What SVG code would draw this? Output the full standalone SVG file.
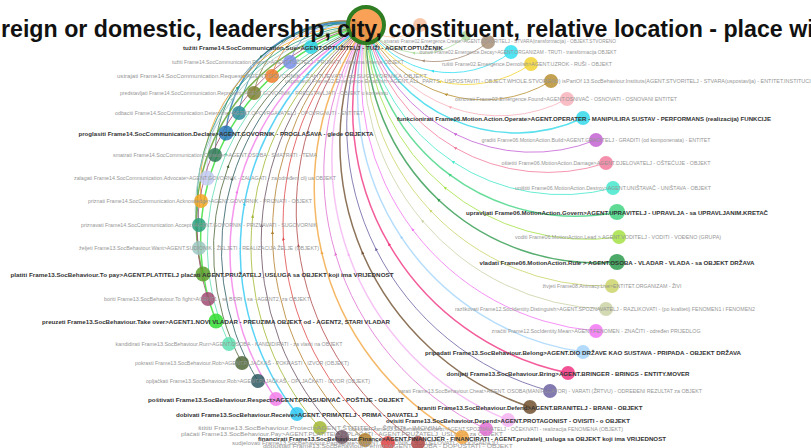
<svg xmlns="http://www.w3.org/2000/svg" width="811" height="448" viewBox="0 0 811 448">
<style>
.e{fill:none;stroke-width:1;stroke-opacity:.8;marker-mid:url(#a)}
.b{stroke-width:1.5}
.n circle{fill-opacity:.85}
.g{font-family:"Liberation Sans",Arial,sans-serif;font-size:4.7px;fill:#959595;text-anchor:middle}
.d{font-family:"Liberation Sans",Arial,sans-serif;font-size:5.6px;font-weight:bold;fill:#333;text-anchor:middle}
.t{font-family:"Liberation Sans",Arial,sans-serif;font-size:23.2px;font-weight:bold;fill:#111}
</style>
<defs>
<marker id="a" viewBox="0 0 10 10" refX="5" refY="5" markerWidth="3.2" markerHeight="3.2" markerUnits="userSpaceOnUse" orient="auto"><path d="M0,0L10,5L0,10z" fill="context-stroke"/></marker>
</defs>
<rect width="811" height="448" fill="#fff"/>
<g id="edges">
<path class="e" stroke="#f8c0a0" d="M420,25 A36,36 0 0,1 393,37.1 A36,36 0 0,1 366,25"/>
<path class="e" stroke="#b0dca0" d="M466,36 A67,67 0 0,1 413.5,52.9 A67,67 0 0,1 366,25"/>
<path class="e b" stroke="#2dd4e8" d="M311,47 A40,40 0 0,1 333.6,23.7 A40,40 0 0,1 366,25"/>
<path class="e" stroke="#7b8ee8" d="M290,62 A57,57 0 0,1 319.7,26.5 A57,57 0 0,1 366,25"/>
<path class="e" stroke="#f07f2a" d="M272,76 A72,72 0 0,1 307.6,29.4 A72,72 0 0,1 366,25"/>
<path class="e" stroke="#7f7f2f" d="M254,93 A88,88 0 0,1 294.8,33.9 A88,88 0 0,1 366,25"/>
<path class="e" stroke="#2b8a9c" d="M239,113 A104,104 0 0,1 282.8,40.6 A104,104 0 0,1 366,25"/>
<path class="e b" stroke="#2a7ab8" d="M226,133 A119,119 0 0,1 271.8,47.6 A119,119 0 0,1 366,25"/>
<path class="e" stroke="#2f7a58" d="M215,155 A134,134 0 0,1 261.4,56.2 A134,134 0 0,1 366,25"/>
<path class="e" stroke="#c3cbf2" d="M207,178 A148,148 0 0,1 252.2,65.9 A148,148 0 0,1 366,25"/>
<path class="e" stroke="#f5a623" d="M201,201 A162,162 0 0,1 244.1,76 A162,162 0 0,1 366,25"/>
<path class="e" stroke="#2aa07e" d="M199,225 A175,175 0 0,1 237.7,87.6 A175,175 0 0,1 366,25"/>
<path class="e" stroke="#9cc7c0" d="M199,248 A187,187 0 0,1 232.5,99.1 A187,187 0 0,1 366,25"/>
<path class="e b" stroke="#5aa02a" d="M203,274 A199,199 0 0,1 228.7,113 A199,199 0 0,1 366,25"/>
<path class="e" stroke="#a04a72" d="M208,299 A212,212 0 0,1 225.6,126.6 A212,212 0 0,1 366,25"/>
<path class="e b" stroke="#33dd33" d="M216,321 A222,222 0 0,1 224.7,139.4 A222,222 0 0,1 366,25"/>
<path class="e" stroke="#5fe0b2" d="M229,344 A233,233 0 0,1 226,153.8 A233,233 0 0,1 366,25"/>
<path class="e" stroke="#50683a" d="M242,363 A241,241 0 0,1 228.3,166.2 A241,241 0 0,1 366,25"/>
<path class="e" stroke="#2b5b62" d="M258,381 A249,249 0 0,1 232.3,178.8 A249,249 0 0,1 366,25"/>
<path class="e b" stroke="#f27ee9" d="M276,399 A258,258 0 0,1 237.2,191.8 A258,258 0 0,1 366,25"/>
<path class="e b" stroke="#2fc8f2" d="M297,414 A265,265 0 0,1 244.4,204 A265,265 0 0,1 366,25"/>
<path class="e" stroke="#a2b832" d="M320,428 A272,272 0 0,1 252.7,216.2 A272,272 0 0,1 366,25"/>
<path class="e" stroke="#6c5060" d="M342,437 A277,277 0 0,1 261.7,225.6 A277,277 0 0,1 366,25"/>
<path class="e" stroke="#b3802c" d="M365,440 A278,278 0 0,1 272.5,232.3 A278,278 0 0,1 366,25"/>
<path class="e" stroke="#e04848" d="M388,443 A281,281 0 0,1 283.4,238.9 A281,281 0 0,1 366,25"/>
<path class="e" stroke="#b04848" d="M418,443 A282,282 0 0,1 298.4,245.6 A282,282 0 0,1 366,25"/>
<path class="e b" stroke="#f2a640" d="M462,437 A283,283 0 0,1 321.7,252.5 A283,283 0 0,1 366,25"/>
<path class="e" stroke="#e070d2" d="M486,429 A282,282 0 0,1 335.5,253.9 A282,282 0 0,1 366,25"/>
<path class="e b" stroke="#f4b4f2" d="M508,420 A281,281 0 0,1 348.5,254.3 A281,281 0 0,1 366,25"/>
<path class="e b" stroke="#70502f" d="M530,407 A279,279 0 0,1 362.4,252.7 A279,279 0 0,1 366,25"/>
<path class="e" stroke="#6b62a2" d="M550,391 A274,274 0 0,1 376,249.2 A274,274 0 0,1 366,25"/>
<path class="e b" stroke="#f03582" d="M568,373 A270,270 0 0,1 389,244.2 A270,270 0 0,1 366,25"/>
<path class="e b" stroke="#a4d4fa" d="M583,352 A263,263 0 0,1 401.3,237.1 A263,263 0 0,1 366,25"/>
<path class="e" stroke="#f276f2" d="M596,331 A257,257 0 0,1 412.5,229.5 A257,257 0 0,1 366,25"/>
<path class="e" stroke="#cbd2a6" d="M606,309 A249,249 0 0,1 422.4,220.8 A249,249 0 0,1 366,25"/>
<path class="e" stroke="#cbd468" d="M612,286 A240,240 0 0,1 430.5,210.6 A240,240 0 0,1 366,25"/>
<path class="e b" stroke="#2e9a4c" d="M617,262 A231,231 0 0,1 438.4,199.7 A231,231 0 0,1 366,25"/>
<path class="e" stroke="#a4e244" d="M619,237 A221,221 0 0,1 445,187.7 A221,221 0 0,1 366,25"/>
<path class="e b" stroke="#42d482" d="M617,212 A210,210 0 0,1 449.6,174.7 A210,210 0 0,1 366,25"/>
<path class="e" stroke="#44e8cc" d="M613,188 A198,198 0 0,1 453,161.8 A198,198 0 0,1 366,25"/>
<path class="e" stroke="#f27c9c" d="M606,163 A186,186 0 0,1 455.1,147.8 A186,186 0 0,1 366,25"/>
<path class="e" stroke="#c462d4" d="M596,140 A172,172 0 0,1 455.2,134 A172,172 0 0,1 366,25"/>
<path class="e b" stroke="#32d8ea" d="M583,118 A158,158 0 0,1 453.7,120.1 A158,158 0 0,1 366,25"/>
<path class="e" stroke="#f8b2bb" d="M567,99 A144,144 0 0,1 449.9,107 A144,144 0 0,1 366,25"/>
<path class="e" stroke="#b89032" d="M551,81 A130,130 0 0,1 446,94.4 A130,130 0 0,1 366,25"/>
<path class="e" stroke="#f2d432" d="M531,64 A114,114 0 0,1 439.8,81.5 A114,114 0 0,1 366,25"/>
<path class="e" stroke="#32e0f2" d="M511,52 A99,99 0 0,1 432.5,71 A99,99 0 0,1 366,25"/>
<path class="e" stroke="#a88f78" d="M488,42 A83,83 0 0,1 423.2,60.8 A83,83 0 0,1 366,25"/>
</g>
<g id="n_hub" class="n"><circle cx="366" cy="25" r="18" fill="#f7913a" stroke="#2f7d22" stroke-width="4"/></g>
<g id="n0a" class="n"><circle cx="420" cy="25" r="7" fill="#f8c0a0" fill-opacity=".6"/></g>
<g id="n0b" class="n"><circle cx="466" cy="36" r="5" fill="#b0dca0" fill-opacity=".6"/></g>
<g id="n1" class="n"><circle cx="311" cy="47" r="7" fill="#2dd4e8"/><text class="d" x="313" y="49.5" textLength="260" lengthAdjust="spacingAndGlyphs">tužiti Frame14.SocCommunication.Sue&gt;AGENT.OPTUŽITELJ - TUŽI - AGENT.OPTUŽENIK</text></g>
<g id="n2" class="n"><circle cx="290" cy="62" r="7" fill="#7b8ee8"/><text class="g" x="288" y="63.5" textLength="232" lengthAdjust="spacingAndGlyphs">tužiti Frame14.SocCommunication.Report&gt;AGENT.TUŽITELJ - PRIJAVITI - vlastima kršenje OBJEKT</text></g>
<g id="n3" class="n"><circle cx="272" cy="76" r="7" fill="#f07f2a"/><text class="g" x="272" y="78" textLength="310" lengthAdjust="spacingAndGlyphs">ustrajati Frame14.SocCommunication.Request&gt;AGENT.GOVORNIK - ZAHTIJEVATI - od SUGOVORNIKA OBJEKT</text></g>
<g id="n4" class="n"><circle cx="254" cy="93" r="7" fill="#7f7f2f"/><text class="g" x="254" y="94.5" textLength="268" lengthAdjust="spacingAndGlyphs">predstavljati Frame14.SocCommunication.Represent&gt;AGENT.GOVORNIK - PREDSTAVLJATI - OBJEKT u kontekstu</text></g>
<g id="n5" class="n"><circle cx="239" cy="113" r="7" fill="#2b8a9c"/><text class="g" x="239" y="114.5" textLength="248" lengthAdjust="spacingAndGlyphs">odbaciti Frame14.SocCommunication.Determine&gt;AGENT.OPOVRGAVATELJ - OPOVRGNUTI - ENTITET</text></g>
<g id="n6" class="n"><circle cx="226" cy="133" r="7.5" fill="#2a7ab8"/><text class="d" x="226" y="135.5" textLength="295" lengthAdjust="spacingAndGlyphs">proglasiti Frame14.SocCommunication.Declare&gt;AGENT.GOVORNIK - PROGLAŠAVA - glede OBJEKTA</text></g>
<g id="n7" class="n"><circle cx="215" cy="155" r="7" fill="#2f7a58"/><text class="g" x="215" y="156.5" textLength="204" lengthAdjust="spacingAndGlyphs">smatrati Frame14.SocCommunication.Consider&gt;AGENT.OSOBA - SMATRATI - TEMA</text></g>
<g id="n8" class="n"><circle cx="207" cy="178" r="7.5" fill="#c3cbf2"/><text class="g" x="205" y="179.5" textLength="262" lengthAdjust="spacingAndGlyphs">zalagati Frame14.SocCommunication.Advocate&gt;AGENT.GOVORNIK - ZALAGATI - za određeni cilj ua OBJEKT</text></g>
<g id="n9" class="n"><circle cx="201" cy="201" r="7" fill="#f5a623"/><text class="g" x="200" y="202.5" textLength="224" lengthAdjust="spacingAndGlyphs">priznati Frame14.SocCommunication.Acknowledge&gt;AGENT.GOVORNIK - PRIZNATI - OBJEKT</text></g>
<g id="n10" class="n"><circle cx="199" cy="225" r="7" fill="#2aa07e"/><text class="g" x="199" y="226.5" textLength="236" lengthAdjust="spacingAndGlyphs">priznavati Frame14.SocCommunication.Accept&gt;AGENT.GOVORNIK - PRIZNAVATI - SUGOVORNIK</text></g>
<g id="n11" class="n"><circle cx="199" cy="248" r="7" fill="#9cc7c0"/><text class="g" x="199" y="250" textLength="240" lengthAdjust="spacingAndGlyphs">željeti Frame13.SocBehaviour.Want&gt;AGENT.SUDIONIK - ŽELJETI - REALIZACIJA ŽELJE (OBJEKT)</text></g>
<g id="n12" class="n"><circle cx="203" cy="274" r="7.5" fill="#5aa02a"/><text class="d" x="202" y="276.5" textLength="383" lengthAdjust="spacingAndGlyphs">platiti Frame13.SocBehaviour.To pay&gt;AGENT.PLATITELJ plaćati AGENT.PRUŽATELJ_USLUGA sa OBJEKT koji ima VRIJEDNOST</text></g>
<g id="n13" class="n"><circle cx="208" cy="299" r="7" fill="#a04a72"/><text class="g" x="207" y="300.5" textLength="206" lengthAdjust="spacingAndGlyphs">boriti Frame13.SocBehaviour.To fight&gt;AGENT1 - se BORI - sa - AGENT2, za OBJEKT</text></g>
<g id="n14" class="n"><circle cx="216" cy="321" r="7.5" fill="#33dd33"/><text class="d" x="216" y="323.5" textLength="348" lengthAdjust="spacingAndGlyphs">preuzeti Frame13.SocBehaviour.Take over&gt;AGENT1.NOVI VLADAR - PREUZIMA OBJEKT od - AGENT2, STARI VLADAR</text></g>
<g id="n15" class="n"><circle cx="229" cy="344" r="7" fill="#5fe0b2"/><text class="g" x="229" y="345.5" textLength="227" lengthAdjust="spacingAndGlyphs">kandidirati Frame13.SocBehaviour.Run&gt;AGENT.OSOBA - KANDIDIRATI - za vlasti na OBJEKT</text></g>
<g id="n16" class="n"><circle cx="242" cy="363" r="7" fill="#50683a"/><text class="g" x="242" y="365" textLength="214" lengthAdjust="spacingAndGlyphs">pokrasti Frame13.SocBehaviour.Rob&gt;AGENT.PLJAČKAŠ - POKRASTI - IZVOR (OBJEKT)</text></g>
<g id="n17" class="n"><circle cx="258" cy="381" r="7" fill="#2b5b62"/><text class="g" x="258" y="383" textLength="224" lengthAdjust="spacingAndGlyphs">opljačkati Frame13.SocBehaviour.Rob&gt;AGENT.PLJAČKAŠ - OPLJAČKATI - IZVOR (OBJEKT)</text></g>
<g id="n18" class="n"><circle cx="276" cy="399" r="7" fill="#f27ee9"/><text class="d" x="276" y="401.5" textLength="256" lengthAdjust="spacingAndGlyphs">poštivati Frame13.SocBehaviour.Respect&gt;AGENT.PROSUĐIVAČ - POŠTIJE - OBJEKT</text></g>
<g id="n19" class="n"><circle cx="297" cy="414" r="7" fill="#2fc8f2"/><text class="d" x="297" y="416.5" textLength="242" lengthAdjust="spacingAndGlyphs">dobivati Frame13.SocBehaviour.Receive&gt;AGENT. PRIMATELJ - PRIMA - DAVATELJ</text></g>
<g id="n20" class="n"><circle cx="320" cy="428" r="7" fill="#a2b832"/><text class="g" x="320" y="429.5" textLength="244" lengthAdjust="spacingAndGlyphs">štititi Frame13.SocBehaviour.Protect&gt;AGENT.ŠTITITELJ - ŠTITITI - IMOVINA</text></g>
<g id="n21" class="n"><circle cx="342" cy="437" r="7" fill="#6c5060"/><text class="g" x="342" y="436" textLength="322" lengthAdjust="spacingAndGlyphs">plaćati Frame13.SocBehaviour.Pay&gt;AGENT.PLATITELJ - PLAĆATI - AGENT.PRUŽATELJ_USLUGA za OBJEKT</text></g>
<g id="n22" class="n"><circle cx="365" cy="440" r="7" fill="#b3802c"/><text class="g" x="365" y="444.5" textLength="266" lengthAdjust="spacingAndGlyphs">sudjelovati Frame13.SocBehaviour.Participate&gt;AGENT.SUDIONIK - SUDJELOVATI - u DOGAĐAJU</text></g>
<g id="n23" class="n"><circle cx="388" cy="443" r="7" fill="#e04848"/><text class="g" x="388" y="448" textLength="250" lengthAdjust="spacingAndGlyphs">dopuštati Frame13.SocBehaviour.Permit&gt;AGENT.OSOBA - DOPUŠTATI - OBJEKT</text></g>
<g id="n24" class="n"><circle cx="418" cy="443" r="7" fill="#b04848"/></g>
<g id="n25" class="n"><circle cx="462" cy="437" r="7" fill="#f2a640"/><text class="d" x="462" y="440.5" textLength="408" lengthAdjust="spacingAndGlyphs">financirati Frame13.SocBehaviour.Finance&gt;AGENT.FINANCIJER - FINANCIRATI - AGENT.pružatelj_usluga sa OBJEKT koji ima VRIJEDNOST</text></g>
<g id="n26" class="n"><circle cx="486" cy="429" r="7" fill="#e070d2"/><text class="g" x="486" y="431" textLength="274" lengthAdjust="spacingAndGlyphs">očekivati Frame13.SocBehaviour.Expect&gt;AGENT.SPOZNAVATELJ - OČEKIVATI - realizacija FENOMENA (OBJEKT)</text></g>
<g id="n27" class="n"><circle cx="508" cy="420" r="7" fill="#f4b4f2"/><text class="d" x="508" y="422.5" textLength="244" lengthAdjust="spacingAndGlyphs">ovisiti Frame13.SocBehaviour.Depend&gt;AGENT.PROTAGONIST - OVISITI - o OBJEKT</text></g>
<g id="n28" class="n"><circle cx="530" cy="407" r="7" fill="#70502f"/><text class="d" x="530" y="409.5" textLength="225" lengthAdjust="spacingAndGlyphs">braniti Frame13.SocBehaviour.Defend&gt;AGENT.BRANITELJ - BRANI - OBJEKT</text></g>
<g id="n29" class="n"><circle cx="550" cy="391" r="7" fill="#6b62a2"/><text class="g" x="550" y="392.5" textLength="304" lengthAdjust="spacingAndGlyphs">varati Frame13.SocBehaviour.Cheat&gt;AGENT. OSOBA(MANIPULATOR) - VARATI (ŽRTVU) - ODREĐENI REZULTAT za OBJEKT</text></g>
<g id="n30" class="n"><circle cx="568" cy="373" r="7" fill="#f03582"/><text class="d" x="568" y="375.5" textLength="243" lengthAdjust="spacingAndGlyphs">donijeti Frame13.SocBehaviour.Bring&gt;AGENT.BRINGER - BRINGS - ENTITY.MOVER</text></g>
<g id="n31" class="n"><circle cx="583" cy="352" r="7" fill="#a4d4fa"/><text class="d" x="583" y="354.5" textLength="316" lengthAdjust="spacingAndGlyphs">pripadati Frame13.SocBehaviour.Belong&gt;AGENT.DIO DRŽAVE KAO SUSTAVA - PRIPADA - OBJEKT DRŽAVA</text></g>
<g id="n32" class="n"><circle cx="596" cy="331" r="7" fill="#f276f2"/><text class="g" x="596" y="333" textLength="209" lengthAdjust="spacingAndGlyphs">značiti Frame12.SocIdentity.Mean&gt;AGENT.FENOMEN - ZNAČITI - određen PRIJEDLOG</text></g>
<g id="n33" class="n"><circle cx="606" cy="309" r="7" fill="#cbd2a6"/><text class="g" x="605" y="311" textLength="300" lengthAdjust="spacingAndGlyphs">razlikovati Frame12.SocIdentity.Distinguish&gt;AGENT.SPOZNAVATELJ - RAZLIKOVATI - (po kvaliteti) FENOMEN1 i FENOMEN2</text></g>
<g id="n34" class="n"><circle cx="612" cy="286" r="7" fill="#cbd468"/><text class="g" x="612" y="288" textLength="139" lengthAdjust="spacingAndGlyphs">živjeti Frame08.Animacy.Live&gt;ENTITET.ORGANIZAM - ŽIVI</text></g>
<g id="n35" class="n"><circle cx="617" cy="262" r="8" fill="#2e9a4c"/><text class="d" x="617" y="264.5" textLength="275" lengthAdjust="spacingAndGlyphs">vladati Frame06.MotionAction.Rule &gt; AGENT.OSOBA - VLADAR - VLADA - sa OBJEKT DRŽAVA</text></g>
<g id="n36" class="n"><circle cx="619" cy="237" r="7" fill="#a4e244"/><text class="g" x="618" y="239" textLength="206" lengthAdjust="spacingAndGlyphs">voditi Frame06.MotionAction.Lead &gt; AGENT.VODITELJ - VODITI - VOĐENO (GRUPA)</text></g>
<g id="n37" class="n"><circle cx="617" cy="212" r="8" fill="#42d482"/><text class="d" x="617" y="214.5" textLength="302" lengthAdjust="spacingAndGlyphs">upravljati Frame06.MotionAction.Govern&gt;AGENT.UPRAVITELJ - UPRAVLJA - sa UPRAVLJANIM.KRETAČ</text></g>
<g id="n38" class="n"><circle cx="613" cy="188" r="7" fill="#44e8cc"/><text class="g" x="613" y="189.5" textLength="196" lengthAdjust="spacingAndGlyphs">uništiti Frame06.MotionAction.Destroy&gt;AGENT.UNIŠTAVAČ - UNIŠTAVA - OBJEKT</text></g>
<g id="n39" class="n"><circle cx="606" cy="163" r="7" fill="#f27c9c"/><text class="g" x="606" y="165" textLength="209" lengthAdjust="spacingAndGlyphs">oštetiti Frame06.MotionAction.Damage&gt;AGENT.DJELOVATELJ - OŠTEĆUJE - OBJEKT</text></g>
<g id="n40" class="n"><circle cx="596" cy="140" r="7" fill="#c462d4"/><text class="g" x="596" y="142" textLength="229" lengthAdjust="spacingAndGlyphs">graditi Frame06.MotionAction.Build&gt;AGENT.GRADITELJ - GRADITI (od komponenata) - ENTITET</text></g>
<g id="n41" class="n"><circle cx="583" cy="118" r="7" fill="#32d8ea"/><text class="d" x="584" y="120.5" textLength="374" lengthAdjust="spacingAndGlyphs">funkcionirati Frame06.Motion.Action.Operate&gt;AGENT.OPERATER - MANIPULIRA SUSTAV - PERFORMANS (realizacija) FUNKCIJE</text></g>
<g id="n42" class="n"><circle cx="567" cy="99" r="7" fill="#f8b2bb"/><text class="g" x="566" y="100.5" textLength="222" lengthAdjust="spacingAndGlyphs">osnovati Frame02.Emergence.Found&gt;AGENT.OSNIVAČ - OSNOVATI - OSNOVANI ENTITET</text></g>
<g id="n43" class="n"><circle cx="551" cy="81" r="7" fill="#b89032"/><text class="g" x="551" y="82.5" textLength="532" lengthAdjust="spacingAndGlyphs">uspostaviti Frame02.Emergence.Establish&gt;AGENT.ALL_PARTS - USPOSTAVITI - OBJECT.WHOLE.STVORENO) isPartOf 13.SocBehaviour.Instituts(AGENT.STVORITELJ - STVARA(uspostavlja) - ENTITET.INSTITUCIJA</text></g>
<g id="n44" class="n"><circle cx="531" cy="64" r="7" fill="#f2d432"/><text class="g" x="527" y="66" textLength="170" lengthAdjust="spacingAndGlyphs">rušiti Frame02.Emergence.Demolish&gt;AGENT.UZROK - RUŠI - OBJEKT</text></g>
<g id="n45" class="n"><circle cx="511" cy="52" r="7" fill="#32e0f2"/><text class="g" x="518" y="53.5" textLength="197" lengthAdjust="spacingAndGlyphs">trunuti Frame02.Emergence.Decay&gt;AGENT.ORGANIZAM - TRUTI - transformacija OBJEKT</text></g>
<g id="n46" class="n"><circle cx="488" cy="42" r="7" fill="#a88f78"/><text class="g" x="500" y="43" textLength="232" lengthAdjust="spacingAndGlyphs">stvarati Frame02.Emergence.Create&gt;AGENT.STVORITELJ - STVARA(transformacija) - OBJEKT.STVORENO</text></g>
<text class="t" x="1" y="37">reign or domestic, leadership, city, constituent, relative location - place wi</text>
</svg>
